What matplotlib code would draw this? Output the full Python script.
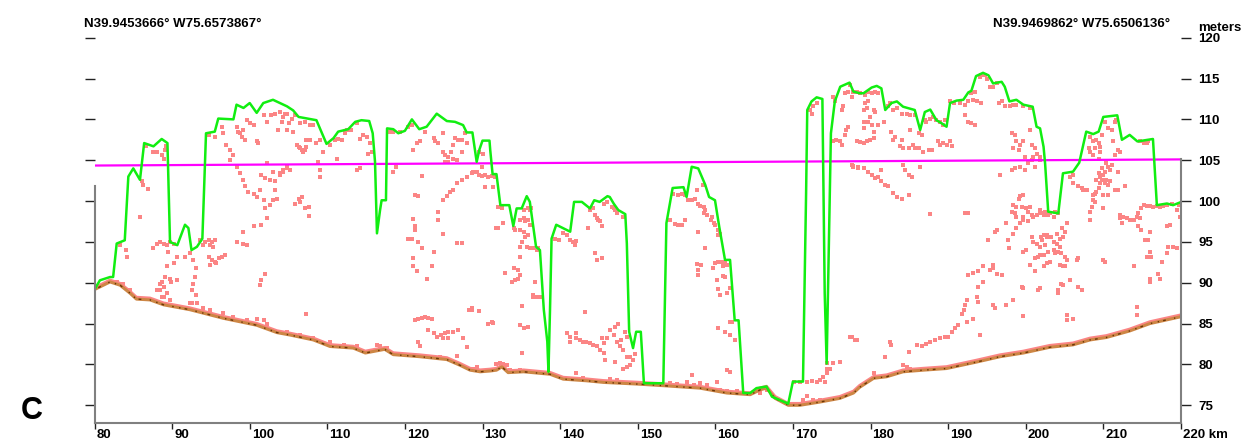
import numpy as np
import matplotlib
matplotlib.use("Agg")
import matplotlib.pyplot as plt
import matplotlib.patheffects as pe
from matplotlib.transforms import ScaledTranslation

plt.rcParams['font.family'] = ['Liberation Sans', 'DejaVu Sans']

# --- profile data (km along track, meters elevation) ---
start_label = "N39.9453666° W75.6573867°"
end_label = "N39.9469862° W75.6506136°"

# top-of-canopy surface (green)
surface_km = [79.95, 80.7, 82.0, 82.4, 82.86, 83.9, 84.36, 85.0, 85.86, 86.4, 87.6, 88.66, 89.4, 89.73,
              90.67, 91.66, 92.1, 92.5, 93.2, 93.9, 94.37, 95.5, 95.95, 97.9, 98.3, 99.2, 100.0, 100.9,
              101.75, 103.0, 104.8, 105.6, 106.3, 108.6, 109.9, 110.8, 111.4, 112.7, 113.6, 114.4, 115.4,
              115.85, 116.15, 116.4, 116.8, 117.0, 117.56, 117.7, 118.5, 119.15, 120.0, 120.9, 121.85,
              122.8, 124.1, 125.4, 126.45, 127.5, 127.96, 128.7, 129.25, 129.6, 130.0, 130.9, 131.0,
              131.3, 131.8, 132.3, 133.45, 133.97, 134.4, 135.05, 135.7, 136.1, 136.9, 137.4, 137.9,
              138.35, 138.5, 138.7, 138.9, 139.5, 141.3, 141.8, 142.8, 143.85, 144.4, 145.1, 146.1,
              146.4, 146.9, 147.5, 148.4, 148.6, 148.9, 149.4, 149.8, 150.4, 150.8, 153.3, 153.7, 154.5,
              155.9, 156.3, 156.96, 157.8, 158.7, 159.2, 159.96, 160.5, 161.25, 161.9, 162.5, 163.0,
              163.6, 164.5, 165.3, 166.6, 167.3, 169.4, 170.0, 171.3, 171.7, 171.85, 172.4, 173.06,
              173.8, 173.9, 174.1, 174.35, 174.6, 174.9, 175.4, 176.1, 177.3, 177.8, 178.6, 179.1,
              180.15, 180.8, 181.4, 181.9, 182.7, 183.4, 184.2, 185.7, 186.4, 187.0, 187.7, 188.5,
              189.2, 189.8, 190.25, 191.1, 191.96, 192.6, 193.0, 193.6, 194.5, 195.2, 195.8, 196.9,
              197.3, 197.9, 198.8, 199.7, 200.9, 201.4, 201.85, 202.3, 202.5, 202.9, 204.2, 204.8,
              206.1, 206.9, 207.8, 208.7, 209.4, 210.0, 211.8, 212.4, 213.4, 214.4, 216.4, 216.9,
              218.2, 219.0, 219.8]
surface_m = [89.1, 90.3, 90.7, 90.7, 94.8, 95.2, 103.0, 104.0, 102.6, 107.1, 106.7, 107.6, 107.1, 95.0,
             94.6, 97.1, 96.7, 94.0, 94.4, 95.4, 108.3, 108.5, 110.1, 110.0, 111.8, 111.4, 112.0, 110.8,
             112.0, 112.4, 111.6, 111.1, 110.3, 109.9, 107.0, 107.7, 108.5, 108.8, 109.7, 109.9, 109.8,
             108.3, 104.8, 96.05, 98.9, 100.1, 100.1, 108.9, 108.8, 108.3, 108.6, 110.0, 108.8,
             109.1, 110.7, 109.8, 109.7, 109.3, 108.4, 108.4, 104.8, 106.3, 107.4, 107.4, 106.2,
             103.3, 103.3, 99.5, 99.5, 96.95, 99.1, 99.1, 100.6, 99.9, 94.4, 94.0, 86.7,
             82.8, 79.1, 86.7, 95.4, 97.1, 96.25, 99.9, 99.9, 99.1, 100.1, 99.9, 100.6,
             100.5, 99.7, 98.9, 98.4, 94.8, 84.0, 82.0, 84.0, 84.0, 77.7, 77.7, 97.3, 101.6,
             101.7, 100.5, 104.2, 104.0, 102.0, 100.5, 100.1, 96.9, 92.8, 92.8, 85.4, 85.4,
             76.5, 76.5, 77.1, 77.3, 76.05, 75.2, 77.9, 77.9, 100.95, 111.15, 112.2, 112.7,
             112.5, 104.6, 88.7, 80.1, 92.8, 108.3, 112.2, 114.0, 114.5, 113.4, 113.2, 113.2,
             113.9, 114.1, 113.8, 111.15, 112.0, 112.2, 111.55, 111.15, 108.7, 110.9, 111.2, 109.9,
             109.5, 109.1, 112.0, 112.3, 112.4, 113.3, 113.5, 115.3, 115.7, 115.4, 114.4, 114.6,
             114.0, 112.2, 112.4, 111.8, 111.55, 109.1, 108.9, 106.65, 104.6, 98.7, 98.5, 103.4,
             103.6, 104.7, 108.5, 108.2, 108.5, 110.3, 110.5, 107.5, 108.1, 107.3, 107.6, 99.5,
             99.7, 99.5, 99.8]

# bare-earth ground (brown)
ground_km = [79.85, 82.0, 83.3, 84.6, 85.4, 87.15, 88.9, 92.3, 96.6, 100.9, 103.5, 105.2, 108.2, 110.35,
             113.35, 114.9, 117.4, 118.5, 121.9, 125.4, 127.1, 128.4, 129.7, 131.0, 131.8, 132.5, 133.3,
             135.3, 138.7, 140.4, 143.4, 145.6, 149.9, 153.3, 158.0, 161.5, 164.5, 165.8, 166.6, 167.7,
             169.4, 170.9, 173.5, 176.06, 177.8, 178.6, 180.4, 182.1, 184.2, 186.8, 189.8, 193.7, 196.7,
             199.7, 203.1, 206.1, 208.3, 210.4, 213.4, 216.0, 219.8]
ground_m = [89.1, 90.1, 89.7, 88.7, 88.0, 87.9, 87.3, 86.7, 85.65, 84.8, 83.9, 83.6, 83.0, 82.2,
            82.0, 81.4, 81.85, 81.2, 80.95, 80.6, 79.9, 79.3, 79.1, 79.2, 79.3, 79.7, 79.0,
            79.1, 78.8, 78.2, 78.0, 77.8, 77.6, 77.4, 77.1, 76.5, 76.3, 76.9, 77.1, 75.85,
            75.0, 75.0, 75.4, 75.85, 76.5, 77.2, 78.3, 78.5, 79.1, 79.3, 79.5, 80.3, 80.95,
            81.4, 82.1, 82.4, 83.0, 83.3, 84.1, 85.0, 85.8]

# reference level (magenta)
level_km = [80, 220]
level_m = [104.35, 105.1]

# individual lidar returns (km, m)
returns = [
    (86.7, 106.7), (87.6, 106.0), (88.0, 106.0), (88.7, 105.6), (88.9, 105.2), (89.1, 106.3), (89.2, 106.7),
    (86.1, 102.4), (86.3, 102.0), (86.9, 101.5), (85.8, 98.0), (83.3, 94.6), (84.1, 94.0), (84.2, 93.2),
    (87.6, 94.2), (88.0, 94.8), (88.4, 95.0), (88.9, 94.8), (89.3, 94.6), (89.7, 95.0), (89.5, 93.8), (90.2, 94.7),
    (90.6, 93.2), (90.2, 92.4), (89.3, 92.0), (89.1, 90.7), (88.7, 90.1), (88.4, 89.9), (88.9, 89.5),
    (89.7, 90.5), (89.9, 90.1), (90.6, 90.3), (88.4, 89.1), (89.3, 88.7), (88.9, 88.3), (89.7, 87.9),
    (91.7, 93.1), (92.3, 93.6), (92.7, 92.8), (93.1, 91.8), (93.0, 90.7), (92.7, 89.9), (92.5, 89.1),
    (93.1, 88.5), (92.5, 87.5),
    (93.6, 95.2), (94.2, 95.0), (94.7, 95.2), (95.1, 95.0), (95.5, 95.2), (94.0, 94.6), (94.9, 94.6), (95.3, 94.4),
    (94.7, 93.2), (95.1, 92.8), (95.5, 92.6), (96.0, 93.0), (96.4, 93.2), (96.8, 93.4), (94.9, 92.2), (95.7, 92.4),
    (94.7, 108.1), (95.5, 107.9), (96.4, 109.1), (96.6, 108.3), (97.0, 106.9), (97.5, 106.3), (97.9, 105.6),
    (98.3, 109.1), (98.5, 108.5), (98.8, 108.3), (99.0, 107.9), (99.2, 108.7), (99.4, 107.5), (99.6, 109.9),
    (100.0, 109.5), (100.5, 109.3), (100.9, 107.3), (101.1, 107.1), (101.8, 110.5), (102.2, 109.7),
    (102.8, 110.5), (103.3, 110.7), (103.7, 108.7), (104.1, 109.7), (104.3, 110.3), (104.8, 110.7),
    (97.5, 105.0), (98.3, 104.2), (98.8, 103.4), (99.1, 102.6), (99.4, 101.8), (99.8, 101.1), (100.5, 100.9),
    (100.9, 100.5), (101.3, 101.4), (101.8, 100.1), (102.0, 99.1), (102.6, 99.5), (103.0, 100.1), (103.3, 101.4),
    (103.5, 100.3), (102.2, 97.9), (101.5, 97.1), (100.5, 96.9), (99.2, 96.2), (98.3, 95.0), (99.2, 94.8),
    (99.6, 94.6), (102.0, 91.1), (101.5, 90.3), (101.3, 89.7),
    (101.5, 103.2), (102.0, 102.8), (102.6, 102.6), (103.3, 102.4), (103.9, 103.4), (104.3, 103.6),
    (104.8, 104.2), (105.2, 103.8), (102.2, 104.6), (103.0, 103.6),
    (82.9, 90.1), (83.7, 89.9), (84.6, 89.1), (88.0, 89.1), (88.7, 88.3), (92.3, 87.5), (93.2, 87.5),
    (94.0, 86.9), (94.9, 86.7), (96.6, 86.3), (97.9, 85.8), (99.6, 85.4), (100.9, 85.6), (101.8, 85.4), (102.2, 85.0),
    (103.9, 110.9), (104.5, 110.7), (105.0, 109.5), (105.4, 110.1), (105.8, 110.5), (104.8, 108.7), (105.6, 108.5),
    (106.5, 109.5), (107.1, 109.7), (107.8, 109.3), (108.2, 109.3), (107.3, 107.5), (107.8, 107.5), (108.6, 107.1),
    (109.1, 107.5), (109.5, 106.0), (110.3, 106.9), (111.0, 107.5), (111.4, 107.6), (111.9, 107.5), (112.3, 108.3),
    (112.5, 108.7), (113.1, 108.7), (113.8, 109.5), (114.2, 107.6), (114.6, 108.1), (115.1, 107.9), (115.5, 107.1),
    (115.3, 105.8), (115.7, 106.0), (111.2, 105.2), (108.8, 104.8), (109.1, 103.8), (109.1, 103.0), (113.8, 103.8),
    (114.2, 104.0), (104.3, 103.8), (104.8, 104.0), (103.9, 103.2),
    (106.1, 106.9), (106.3, 106.6), (106.5, 106.5), (106.7, 106.3), (106.9, 106.0), (107.1, 106.3), (107.3, 106.6),
    (105.8, 99.7), (106.3, 100.3), (106.7, 100.5), (106.5, 99.9), (107.1, 99.1), (107.6, 99.3), (107.6, 98.2),
    (107.3, 86.2),
    (118.1, 108.5), (118.5, 108.4), (119.4, 108.4), (120.4, 109.1), (120.9, 109.3), (121.1, 106.3), (121.5, 107.1),
    (121.9, 107.3), (122.6, 108.5), (123.7, 107.7), (123.9, 107.3), (124.3, 107.1), (124.9, 108.3), (124.9, 106.0),
    (125.2, 105.6), (125.6, 105.4), (126.0, 106.0), (126.2, 106.9), (126.5, 107.7), (126.9, 107.5), (127.3, 107.5),
    (127.3, 106.0), (127.7, 108.3), (128.0, 107.1), (125.2, 104.8), (125.6, 104.8), (126.2, 105.2), (126.7, 105.0),
    (118.5, 103.6), (118.9, 104.2),
    (129.3, 103.6), (128.6, 103.4), (128.0, 103.0), (127.3, 102.6), (126.7, 102.2), (126.2, 101.4), (125.8, 101.1),
    (125.4, 100.6), (124.9, 100.1), (124.3, 98.7), (124.3, 97.7), (124.9, 96.0), (123.7, 93.8), (123.5, 92.0),
    (122.9, 90.4),
    (121.3, 100.7), (121.7, 100.6), (121.1, 97.8), (121.3, 96.9), (121.3, 96.5), (120.4, 95.3), (120.9, 95.3),
    (121.7, 95.0), (122.2, 94.2), (121.1, 93.0), (121.1, 92.0), (121.5, 91.4), (126.7, 94.9), (127.3, 94.9),
    (122.2, 103.1),
    (121.3, 85.4), (121.7, 85.6), (122.2, 85.7), (122.6, 85.8), (123.0, 85.7), (123.5, 85.6),
    (123.0, 84.2), (123.7, 83.8), (124.1, 83.4), (124.7, 83.6), (125.2, 83.8), (125.6, 84.0), (126.2, 84.0),
    (126.9, 84.2), (124.9, 83.2), (125.6, 83.2), (127.5, 83.2), (128.0, 82.1), (128.2, 86.7), (128.6, 86.9),
    (129.5, 86.5), (121.7, 82.8), (121.9, 82.2), (116.8, 82.2), (116.4, 82.4),
    (104.8, 84.0), (106.5, 83.6), (108.2, 83.2), (110.3, 82.8), (112.1, 82.4), (113.8, 82.2), (117.7, 82.0),
    (124.5, 80.9), (126.7, 81.0), (128.8, 79.4), (129.3, 79.7),
    (128.8, 103.5), (129.5, 103.2), (129.9, 103.1), (130.3, 103.2), (130.7, 103.0), (131.2, 103.1), (131.6, 103.0),
    (129.9, 104.2), (130.3, 101.7), (131.4, 101.7), (130.1, 105.8), (129.5, 106.0),
    (132.0, 99.3), (132.5, 99.1), (132.7, 97.3), (131.8, 96.7), (132.0, 96.7), (134.0, 96.7), (134.2, 96.5),
    (134.8, 97.7), (135.3, 97.9), (135.5, 97.5), (135.9, 97.7), (136.1, 97.1), (135.9, 99.1), (136.1, 98.9),
    (136.3, 99.1), (135.3, 98.9), (134.8, 96.5), (135.3, 96.2), (135.5, 95.6), (135.9, 95.8), (135.1, 95.0),
    (134.8, 94.4), (135.7, 94.4), (136.1, 94.2), (136.5, 94.2), (137.0, 94.0), (137.2, 94.2), (134.8, 93.2),
    (134.0, 91.8), (134.6, 91.6), (134.8, 90.9), (134.6, 90.5), (133.8, 90.1), (134.2, 90.3), (132.9, 91.2),
    (136.8, 90.1), (136.5, 88.3), (137.0, 88.3), (137.4, 88.3), (136.5, 88.5), (135.1, 87.1), (134.8, 84.8),
    (135.3, 84.4), (135.9, 84.6), (135.1, 81.4), (130.7, 85.0), (131.2, 85.2), (131.4, 85.1), (128.6, 86.7),
    (131.8, 80.1), (132.3, 80.2), (132.7, 80.1), (133.1, 79.9), (133.5, 79.3), (134.8, 79.3), (135.9, 79.2),
    (139.3, 95.3), (139.8, 95.2), (140.4, 96.1), (140.9, 95.8), (141.3, 95.2), (141.7, 95.0), (142.1, 95.1),
    (141.9, 94.6), (143.9, 98.9), (144.3, 99.1), (144.5, 98.3), (144.9, 97.7), (145.1, 97.5), (145.4, 96.9),
    (144.7, 97.9), (143.6, 96.7), (145.6, 99.7), (146.0, 99.9), (146.7, 99.3), (146.9, 99.1), (147.1, 98.9),
    (147.3, 98.5), (148.1, 98.1), (144.5, 93.6), (144.7, 92.8), (145.4, 93.0),
    (143.2, 86.4), (140.9, 83.8), (141.3, 83.4), (142.1, 83.9), (142.1, 83.2), (142.6, 83.0), (143.0, 82.8),
    (143.4, 82.7), (143.9, 82.6), (144.3, 82.4), (144.7, 82.2), (145.1, 81.8), (145.6, 81.4), (145.8, 80.5),
    (146.0, 83.2), (146.4, 84.2), (146.9, 83.6), (147.1, 84.6), (147.5, 85.0), (147.3, 82.8), (147.9, 83.0),
    (148.4, 84.0), (148.6, 83.4), (147.7, 82.2), (148.1, 81.8), (148.6, 80.9), (149.0, 80.9), (149.4, 80.5),
    (149.7, 81.3), (147.1, 80.3), (148.1, 79.5), (148.6, 79.7), (149.0, 79.9), (145.6, 82.6), (145.4, 83.2),
    (141.3, 82.8), (142.1, 79.0), (143.0, 78.3), (146.4, 78.2), (147.3, 78.1),
    (154.6, 100.9), (155.2, 100.7), (155.7, 100.9), (156.1, 100.7), (156.5, 100.1), (157.0, 100.1), (157.4, 100.2),
    (157.6, 101.3), (157.8, 99.7), (158.0, 99.4), (158.5, 99.3), (158.5, 98.5), (158.9, 98.3), (158.4, 102.0),
    (158.7, 98.9), (159.4, 97.7), (159.6, 98.1), (159.8, 97.3), (160.0, 97.1), (160.4, 96.5), (160.6, 96.0),
    (160.4, 95.8), (154.2, 97.7), (154.8, 97.2), (155.2, 97.1), (155.7, 97.1), (156.1, 97.7), (157.8, 96.2),
    (158.7, 94.3),
    (160.0, 92.4), (160.4, 92.6), (160.8, 92.6), (161.3, 92.5), (161.0, 92.0), (161.5, 92.2), (159.7, 91.8),
    (157.6, 92.3), (158.2, 92.2), (157.8, 91.6), (157.8, 90.9), (160.2, 90.3), (161.0, 90.8), (161.3, 90.7),
    (160.6, 88.5), (161.5, 88.7), (161.9, 89.3), (160.4, 89.2), (161.9, 85.2), (162.2, 85.2), (160.4, 84.4),
    (161.3, 84.0), (161.9, 83.6), (162.5, 83.0), (161.5, 79.3), (161.9, 79.1), (157.0, 78.7),
    (153.3, 77.5), (154.2, 77.7), (155.0, 77.6), (156.3, 77.8), (157.2, 77.5), (158.0, 77.7), (158.9, 77.5),
    (160.2, 77.8), (160.6, 76.9), (161.5, 76.7), (162.8, 76.7), (165.8, 76.5), (166.6, 76.9),
    (170.1, 77.9), (170.9, 77.9), (171.8, 77.9), (172.4, 78.0), (173.1, 77.9), (173.5, 78.1), (174.1, 77.8),
    (173.9, 78.5), (174.4, 79.5), (174.8, 79.5), (174.4, 80.2), (175.2, 80.2), (176.1, 80.3), (174.4, 78.9),
    (171.3, 75.6), (171.8, 76.1), (172.6, 75.6), (173.5, 75.6),
    (172.2, 111.1), (172.4, 110.7), (172.6, 111.6), (173.1, 112.0), (175.2, 112.8), (175.4, 112.2), (176.3, 111.1),
    (176.5, 111.6), (176.7, 113.2), (177.1, 113.4), (177.4, 114.2), (177.6, 112.8), (178.2, 113.4), (176.9, 108.7),
    (177.1, 109.1), (176.7, 108.1), (175.2, 107.3), (175.6, 107.5), (176.1, 107.3), (176.3, 106.9), (177.6, 104.4),
    (177.8, 104.2), (178.4, 104.0), (178.2, 107.3), (177.6, 83.4), (178.2, 83.0),
    (177.8, 113.3), (178.6, 113.2), (179.3, 113.0), (179.7, 113.4), (180.2, 113.2), (180.6, 113.4), (181.0, 113.2),
    (179.3, 112.0), (179.7, 112.2), (179.1, 111.2), (179.5, 111.4), (180.4, 111.2), (180.6, 110.9), (179.9, 110.3),
    (179.1, 109.7), (179.7, 109.7), (179.1, 108.9), (180.2, 109.3), (180.4, 108.5), (181.0, 109.3), (181.7, 109.7),
    (182.3, 111.6), (182.5, 112.0), (182.9, 111.2), (183.4, 111.4), (184.0, 110.7), (184.7, 110.7), (185.1, 110.5),
    (185.7, 110.5), (186.2, 108.3), (186.6, 108.1), (187.0, 109.9), (187.2, 109.7), (187.7, 110.1), (188.1, 110.3),
    (188.5, 109.9), (189.0, 109.7), (189.4, 109.3), (189.6, 109.9), (190.2, 112.2), (190.7, 112.0), (191.5, 112.0),
    (192.2, 111.8), (192.6, 112.2), (193.2, 112.4), (193.7, 112.2), (194.3, 112.0), (193.0, 113.2), (193.5, 113.4),
    (192.2, 110.5), (192.6, 109.7), (193.0, 109.5), (193.5, 109.3), (194.1, 115.2), (194.3, 115.4), (194.8, 115.4),
    (195.0, 115.0), (195.4, 114.0), (195.8, 114.0), (196.3, 114.4), (196.5, 112.0), (196.9, 112.2), (197.3, 111.6),
    (198.0, 111.6), (198.4, 111.8), (198.8, 111.8), (199.7, 111.6), (200.6, 111.4),
    (178.2, 107.3), (178.6, 107.2), (179.1, 107.1), (179.5, 107.3), (179.9, 107.5), (180.4, 107.7), (182.7, 108.5),
    (182.9, 107.5), (183.2, 107.9), (184.0, 107.5), (183.8, 106.7), (184.2, 106.5), (184.9, 106.5), (185.5, 106.9),
    (185.7, 106.5), (186.2, 106.5), (186.8, 106.0), (187.5, 106.3), (187.9, 106.3), (188.7, 107.3), (189.0, 106.9),
    (189.4, 107.1), (189.8, 106.9), (190.2, 107.3), (190.5, 106.7), (185.1, 108.7),
    (177.8, 104.3), (178.4, 104.2), (179.1, 104.1), (179.7, 103.6), (180.2, 103.2), (180.6, 102.8), (181.0, 103.0),
    (181.4, 102.4), (181.9, 102.0), (182.3, 101.8), (182.9, 101.0), (183.4, 100.5), (184.0, 100.3), (181.4, 103.8),
    (184.9, 100.7), (184.2, 104.4), (184.5, 103.8), (184.9, 103.2), (185.3, 103.0), (186.4, 104.2), (187.7, 98.4),
    (192.2, 98.5), (192.6, 98.5), (198.2, 108.3), (198.6, 108.1), (198.8, 107.3), (199.3, 106.9), (198.4, 106.5),
    (199.1, 106.3), (199.7, 107.3), (200.6, 108.7), (200.8, 106.9), (201.2, 106.5), (199.9, 105.4), (201.0, 105.4),
    (201.4, 105.8), (201.8, 105.4), (198.2, 103.8), (198.6, 104.0), (199.3, 104.2), (199.9, 103.8), (200.3, 104.6),
    (200.8, 105.0), (201.2, 104.2), (201.8, 105.0), (196.7, 103.2), (199.3, 100.6), (199.7, 100.7), (199.1, 100.3),
    (198.4, 99.5), (198.8, 99.3), (199.5, 99.3), (200.1, 99.1), (200.6, 99.3), (198.2, 98.7), (198.6, 98.5),
    (198.8, 98.1), (199.7, 98.1), (200.3, 98.7), (200.8, 98.3), (201.0, 98.1), (201.4, 98.3), (201.8, 98.5),
    (202.3, 98.5), (202.7, 98.7), (200.3, 97.5), (199.7, 97.7), (199.3, 97.3), (198.8, 96.7), (198.4, 96.0),
    (197.5, 97.3), (196.3, 96.5), (196.0, 96.2), (195.2, 95.2), (197.9, 94.2), (197.7, 95.2), (199.7, 93.8),
    (200.1, 94.0), (200.8, 95.6), (201.0, 95.0), (201.4, 94.8), (202.1, 95.2), (202.5, 94.6), (202.3, 95.8),
    (202.7, 95.6), (201.6, 93.2), (202.3, 93.4), (202.9, 93.8), (201.2, 93.0), (200.6, 92.2), (201.2, 91.4),
    (202.3, 92.0), (201.6, 89.1), (199.7, 89.3), (199.5, 89.5),
    (195.8, 92.2), (195.4, 91.6), (194.5, 92.0), (193.9, 91.4), (193.2, 91.2), (192.6, 90.9), (194.5, 90.1),
    (193.9, 89.5), (193.7, 88.3), (193.9, 87.7), (192.4, 87.9), (192.2, 87.3), (192.0, 86.7), (191.8, 86.2),
    (192.4, 85.2), (191.3, 84.8), (190.9, 84.4), (190.5, 84.0), (190.0, 83.4), (189.6, 83.4), (189.0, 83.2),
    (188.3, 83.0), (187.7, 82.7), (187.2, 82.5), (186.6, 82.3), (186.0, 82.4), (194.1, 83.6), (193.2, 85.6),
    (195.8, 87.3), (196.0, 86.9), (197.5, 87.3), (198.4, 87.9), (199.7, 85.9), (195.8, 91.8), (196.9, 90.9),
    (196.3, 91.1), (182.5, 82.8), (182.7, 82.4), (177.4, 83.4), (178.0, 83.0), (181.9, 80.9), (184.9, 81.5),
    (184.2, 79.9), (184.7, 79.7), (185.1, 79.5), (180.4, 78.9),
    (210.2, 109.7), (210.6, 108.9), (209.8, 108.1), (211.1, 108.7), (211.5, 109.7), (211.7, 109.9), (208.3, 107.9),
    (208.7, 107.3), (209.1, 107.5), (209.4, 107.1), (209.6, 106.6), (208.9, 106.5), (208.1, 106.5), (208.3, 106.0),
    (208.7, 105.6), (209.6, 106.0), (209.4, 105.2), (211.3, 107.3), (211.9, 106.3), (212.2, 106.0), (211.5, 105.6),
    (210.4, 104.6), (210.6, 104.2), (210.9, 103.8), (211.1, 104.4), (210.2, 103.6), (210.0, 103.2), (209.8, 102.6),
    (209.6, 102.2), (209.4, 101.6), (209.1, 101.1), (208.9, 100.9), (208.7, 100.1), (208.5, 99.3), (208.3, 98.7),
    (208.3, 97.7), (210.4, 102.6), (210.2, 102.2), (210.6, 102.0), (210.9, 102.4), (209.8, 104.0), (209.6, 103.0),
    (209.1, 102.6), (209.4, 103.4), (208.7, 100.7), (208.9, 99.9), (210.0, 100.7), (210.6, 100.7), (210.0, 99.1),
    (211.5, 101.4), (211.9, 101.4), (212.8, 101.8), (211.9, 103.6), (205.7, 103.0), (206.1, 102.2), (206.8, 101.8),
    (207.2, 101.6), (207.9, 101.4), (207.4, 101.4), (206.1, 103.2), (215.8, 107.3), (215.2, 107.1), (215.6, 107.1),
    (214.7, 107.3),
    (215.2, 99.5), (215.6, 99.4), (216.0, 99.4), (216.4, 99.3), (216.9, 99.4), (217.3, 99.3), (217.7, 99.4),
    (218.2, 99.5), (218.8, 99.6), (214.9, 99.1), (219.7, 99.5), (219.5, 98.9), (219.9, 98.1), (214.5, 98.5),
    (214.3, 98.1), (213.9, 97.7), (213.4, 97.7), (213.0, 97.9), (212.6, 98.1), (212.2, 97.9), (212.4, 97.3),
    (214.7, 97.9), (214.5, 96.9), (214.9, 96.5), (216.0, 96.2), (215.4, 95.2), (215.8, 95.2), (212.2, 98.3),
    (216.0, 93.8), (215.6, 93.2), (216.2, 93.2), (217.1, 91.1), (217.3, 90.5), (216.0, 90.5), (216.0, 90.1),
    (218.2, 96.9), (218.6, 97.1), (218.4, 94.4), (219.0, 94.4), (219.5, 94.2), (218.2, 93.6), (217.5, 92.6),
    (213.9, 92.0), (214.3, 87.0), (214.3, 86.0),
    (201.8, 98.9), (202.5, 98.7), (203.1, 98.5), (203.8, 98.7), (204.2, 98.5), (202.3, 98.3), (202.9, 98.3),
    (203.6, 98.1), (205.3, 97.3), (204.7, 96.7), (205.1, 96.2), (204.8, 95.6), (202.0, 95.6), (202.7, 95.8),
    (203.3, 95.6), (204.0, 96.0), (204.4, 95.4), (203.6, 95.0), (204.0, 94.8), (204.4, 94.4), (203.6, 94.0),
    (204.2, 93.8), (204.6, 93.6), (205.1, 93.2), (203.8, 93.6), (205.3, 92.8), (204.4, 92.2), (204.8, 92.0),
    (205.1, 92.1), (202.7, 92.4), (203.1, 92.6), (201.8, 93.4), (201.8, 89.3), (204.6, 89.9), (204.8, 89.7),
    (204.2, 89.1), (204.2, 88.7), (205.7, 90.3), (206.8, 93.0), (206.6, 92.8), (206.8, 89.5), (207.2, 89.1),
    (210.0, 92.8), (210.2, 92.6), (205.3, 86.0), (205.3, 85.4), (206.1, 85.6), (201.9, 94.4),
]

x_ticks = list(range(80, 221, 10))
x_tick_labels = [str(v) for v in x_ticks[:-1]] + ["220 km"]
y_ticks = list(range(75, 121, 5))

# --- figure ---
W, H = 1246, 445
fig = plt.figure(figsize=(W / 100, H / 100), dpi=100)
ax = fig.add_axes([94.5 / W, 22 / H, 1086.4 / W, 385.3 / H])
ax.set_xlim(80, 220)
ax.set_ylim(72.83, 120)

ret_km, ret_m = zip(*returns)
ax.scatter(ret_km, ret_m, marker='s', s=5.5, c='#fb8585', linewidths=0, zorder=2)

# ground band: pink fringe just above an orange-brown line with dark speckle
ax.plot(ground_km, ground_m, color='#cd8645', lw=2.2, zorder=4,
        path_effects=[pe.SimpleLineShadow(offset=(0, 1.3), shadow_color='#fb8585', alpha=1.0),
                      pe.Normal()])
ax.plot(ground_km, ground_m, color='#6a3408', lw=1.0, dashes=(1, 3, 2, 6, 1, 4), zorder=5)

ax.plot(level_km, level_m, color='#ff00ff', lw=1.6, zorder=6)
ax.plot(surface_km, surface_m, color='#11ee11', lw=1.8, zorder=7)

# axes frame: gray bottom line, partial side lines
for s in ['top', 'left', 'right']:
    ax.spines[s].set_visible(False)
ax.spines['bottom'].set_color('#808080')
ax.spines['bottom'].set_linewidth(1.5)
ymin, ymax = ax.get_ylim()
ax.axvline(80, ymax=(101.8 - ymin) / (ymax - ymin), color='#808080', lw=1.5, clip_on=False, zorder=8)
ax.axvline(220, ymax=(105.1 - ymin) / (ymax - ymin), color='#808080', lw=1.5, clip_on=False, zorder=8)

ax.set_yticks(y_ticks)
ax.tick_params(axis='y', which='both', left=True, right=True, labelleft=False, labelright=True,
               direction='out', length=7, width=1, color='#222222', pad=5.5,
               labelsize=9.5)
ax.set_xticks(x_ticks)
ax.set_xticklabels(x_tick_labels, ha='left')
ax.tick_params(axis='x', direction='out', length=4, width=1, color='#222222', pad=0.5, labelsize=9.5)
for lab in ax.get_xticklabels() + ax.get_yticklabels():
    lab.set_fontweight('bold')
for lab in ax.get_xticklabels():
    lab.set_transform(lab.get_transform() + ScaledTranslation(1.5 / 72, 0, fig.dpi_scale_trans))

fig.text(84 / W, 1 - 27 / H, start_label, fontsize=9.5, fontweight='bold', va='baseline')
fig.text(1170 / W, 1 - 27 / H, end_label, fontsize=9.5, fontweight='bold', va='baseline', ha='right')
fig.text(1198 / W, 1 - 31 / H, "meters", fontsize=9.5, fontweight='bold', va='baseline')
fig.text(21 / W, 1 - 419 / H, "C", fontsize=22, fontweight='bold', va='baseline')

fig.savefig("out.png", dpi=100, facecolor='white')
